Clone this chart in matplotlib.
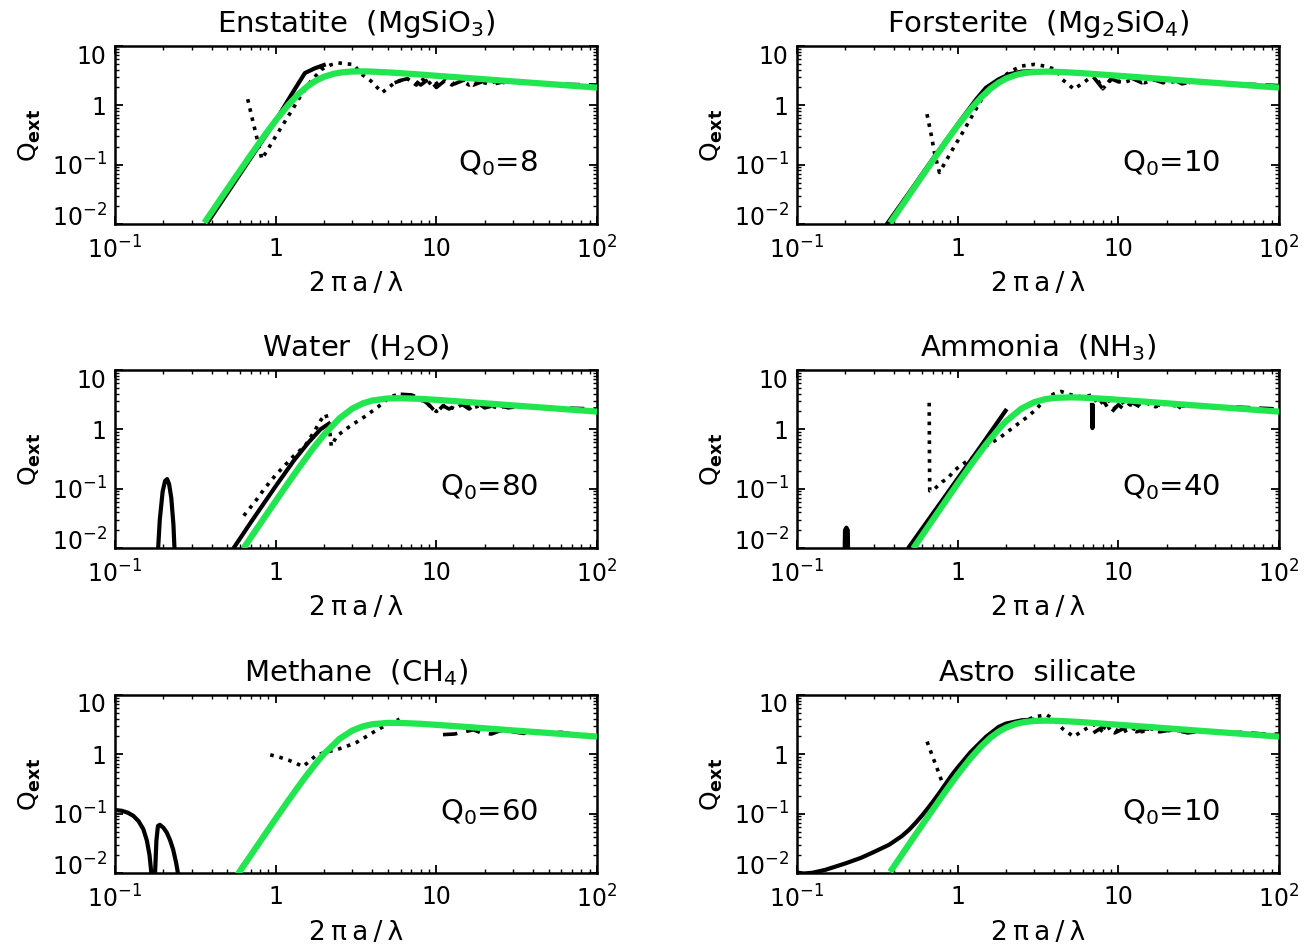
import numpy as np
import matplotlib
matplotlib.use('Agg')
import matplotlib.pyplot as plt
from matplotlib.transforms import ScaledTranslation
from matplotlib.ticker import FixedLocator, FixedFormatter, LogLocator, NullFormatter

# ── Enstatite (MgSiO3), Q0 = 8 ───────────────────────────────────────────────
ens_fit_x = [0.36, 0.45, 0.55, 0.7, 0.85, 1.0, 1.2, 1.4, 1.6, 1.8, 2.0, 2.3, 2.6,
             3.0, 3.5, 4.0, 5.0, 6.0, 8.0, 10, 15, 20, 30, 50, 70, 100]
ens_fit_q = [0.0105, 0.0255, 0.0566, 0.146, 0.307, 0.556, 1.02, 1.59, 2.16, 2.65,
             3.03, 3.41, 3.61, 3.72, 3.74, 3.70, 3.59, 3.48, 3.30, 3.15, 2.91,
             2.75, 2.53, 2.29, 2.14, 1.99]
ens_solid_x = [0.37, 0.5, 0.7, 1.0, 1.25, 1.52, 1.75, 2.05]
ens_solid_q = [0.0098, 0.033, 0.13, 0.55, 1.5, 3.5, 4.2, 4.9]
ens_dot_x = [0.67, 0.72, 0.77, 0.82, 0.9, 1.0, 1.13, 1.3, 1.43, 1.65, 1.92, 2.2,
             2.45, 2.75, 3.05, 3.4, 3.9, 4.6, 5.5, 6.5, 7.5, 8.5, 9.5, 11, 12.5,
             14, 16, 18, 21, 24, 28]
ens_dot_q = [1.27, 0.55, 0.26, 0.124, 0.187, 0.3, 0.51, 0.94, 1.44, 2.5, 4.0, 4.8,
             5.2, 5.0, 4.9, 3.4, 2.6, 1.64, 2.4, 2.9, 2.2, 2.9, 2.1, 2.8, 2.2,
             2.7, 2.2, 2.6, 2.3, 2.6, 2.3]
ens_dash_x = [5.5, 6.2, 7, 8, 9, 10, 11.5, 13, 15, 17, 20, 23, 27, 32, 40, 50, 70, 100]
ens_dash_q = [2.4, 2.7, 2.9, 2.2, 2.8, 2.0, 2.7, 2.3, 2.7, 2.2, 2.6, 2.3, 2.55,
              2.35, 2.4, 2.3, 2.25, 2.2]

# ── Forsterite (Mg2SiO4), Q0 = 10 ────────────────────────────────────────────
for_fit_x = [0.38, 0.45, 0.55, 0.7, 0.85, 1.0, 1.2, 1.4, 1.6, 1.8, 2.0, 2.3, 2.6,
             3.0, 3.5, 4.0, 5.0, 6.0, 8.0, 10, 15, 20, 30, 50, 70, 100]
for_fit_q = [0.0104, 0.0204, 0.0453, 0.117, 0.249, 0.455, 0.853, 1.36, 1.91, 2.41,
             2.82, 3.25, 3.50, 3.65, 3.70, 3.68, 3.58, 3.48, 3.29, 3.15, 2.91,
             2.75, 2.53, 2.29, 2.14, 1.99]
for_solid_x = [0.36, 0.5, 0.7, 1.0, 1.3, 1.5, 1.8, 2.1, 2.5, 3.0]
for_solid_q = [0.0097, 0.034, 0.125, 0.48, 1.25, 1.98, 2.75, 3.35, 3.7, 3.8]
for_dot_x = [0.644, 0.68, 0.72, 0.77, 0.85, 0.95, 1.04, 1.2, 1.41, 1.66, 1.9, 2.16,
             2.5, 3.0, 3.46, 4.1, 4.5, 5.3, 6.3, 7.1, 8.0, 9.0, 10.8, 12.5, 14.5,
             17, 20, 24, 28]
for_dot_q = [0.71, 0.35, 0.15, 0.074, 0.118, 0.2, 0.3, 0.59, 1.27, 2.1, 3.0, 3.8,
             4.6, 4.9, 4.6, 4.0, 2.7, 1.87, 2.6, 3.3, 1.9, 2.7, 2.4, 2.8, 2.4,
             2.7, 2.4, 2.6, 2.4]
for_dash_x = [7, 8, 9, 10, 12, 14, 16, 19, 22, 25, 30, 40, 50, 70, 100]
for_dash_q = [3.0, 1.9, 2.8, 2.5, 2.9, 2.4, 2.8, 2.4, 2.7, 2.3, 2.6, 2.4, 2.3, 2.25, 2.15]

# ── Water (H2O), Q0 = 80 ─────────────────────────────────────────────────────
wat_fit_x = [0.63, 0.7, 0.8, 0.9, 1.0, 1.2, 1.4, 1.7, 2.0, 2.5, 3.0, 3.5, 4.0,
             5.0, 6.0, 8.0, 10, 15, 20, 30, 50, 70, 100]
wat_fit_q = [0.0098, 0.015, 0.0255, 0.0407, 0.0617, 0.126, 0.228, 0.468, 0.813,
             1.54, 2.24, 2.75, 3.06, 3.32, 3.35, 3.26, 3.14, 2.91, 2.75, 2.53,
             2.29, 2.14, 1.99]
wat_solid_x = [0.182, 0.19, 0.198, 0.205, 0.211, 0.217, 0.224, 0.231, 0.238, np.nan,
               0.545, 0.7, 0.85, 1.0, 1.3, 1.6, 1.9, 2.2]
wat_solid_q = [0.004, 0.03, 0.09, 0.135, 0.145, 0.12, 0.07, 0.025, 0.004, np.nan,
               0.0098, 0.027, 0.058, 0.11, 0.3, 0.6, 1.0, 1.3]
wat_dot_x = [0.633, 0.75, 0.847, 1.0, 1.13, 1.3, 1.52, 1.75, 1.92, 2.05, 2.15, 2.22,
             2.4, 2.9, 3.6, 4.35, 5.2, 5.9, 7.0, 8.5, 10, 11.5, 13, 15, 17, 20, 24, 28]
wat_dot_q = [0.035, 0.062, 0.098, 0.17, 0.24, 0.36, 0.52, 0.95, 1.46, 1.8, 1.2, 0.52,
             0.77, 1.13, 1.65, 2.4, 3.58, 3.9, 3.6, 2.9, 2.0, 2.6, 2.2, 2.8, 2.3,
             2.7, 2.3, 2.5]
wat_dash_x = [6, 7, 8, 9, 10, 11, 12, 14, 16, 18, 20, 24, 28, 35, 45, 60, 100]
wat_dash_q = [3.9, 3.8, 3.3, 2.6, 1.9, 2.5, 2.2, 2.8, 2.2, 2.8, 2.3, 2.6, 2.3, 2.5,
              2.3, 2.3, 2.2]

# ── Ammonia (NH3), Q0 = 40 ───────────────────────────────────────────────────
amm_fit_x = [0.53, 0.6, 0.7, 0.8, 1.0, 1.2, 1.5, 1.8, 2.0, 2.5, 3.0, 3.5, 4.0,
             5.0, 6.0, 8.0, 10, 15, 20, 30, 50, 70, 100]
amm_fit_q = [0.00985, 0.0162, 0.0298, 0.0507, 0.122, 0.246, 0.556, 1.01, 1.37,
             2.25, 2.87, 3.22, 3.39, 3.46, 3.42, 3.28, 3.15, 2.91, 2.75, 2.53,
             2.29, 2.14, 1.99]
amm_solid_x = [0.197, 0.199, 0.203, 0.207, 0.209, np.nan,
               0.49, 0.7, 1.0, 1.4, 2.02, np.nan, 6.85, 6.9, 6.95]
amm_solid_q = [0.004, 0.02, 0.022, 0.02, 0.004, np.nan,
               0.0098, 0.038, 0.148, 0.53, 2.2, np.nan, 2.8, 1.05, 2.7]
amm_dot_x = [0.665, 0.667, 0.67, 0.72, 0.8, 0.87, 0.95, 1.05, 1.3, 1.49, 1.8, 2.27,
             2.7, 3.1, 3.46, 4.0, 4.4, 5.1, 6.0, 6.9, 7.5, 8.5, 9.5, 11, 12.5,
             14.5, 17, 20, 24, 28]
amm_dot_q = [2.8, 0.5, 0.092, 0.1, 0.13, 0.15, 0.2, 0.25, 0.36, 0.52, 0.7, 1.13,
             1.6, 2.2, 3.15, 4.0, 4.35, 3.8, 3.5, 3.8, 2.6, 3.3, 2.3, 3.0, 2.4,
             2.9, 2.4, 2.7, 2.4, 2.6]
amm_dash_x = [7.3, 8.0, 9.0, 10, 11, 12, 14, 16, 19, 22, 25, 30, 40, 50, 70, 100]
amm_dash_q = [3.2, 3.15, 1.9, 2.6, 2.1, 2.9, 2.3, 2.9, 2.4, 2.8, 2.2, 2.6, 2.3, 2.4,
              2.3, 2.2]

# ── Methane (CH4), Q0 = 60 ───────────────────────────────────────────────────
met_fit_x = [0.58, 0.65, 0.75, 0.85, 1.0, 1.2, 1.5, 1.8, 2.0, 2.5, 3.0, 3.5, 4.0,
             5.0, 6.0, 8.0, 10, 15, 20, 30, 50, 70, 100]
met_fit_q = [0.0094, 0.0148, 0.0262, 0.0431, 0.082, 0.167, 0.386, 0.731, 1.02,
             1.83, 2.52, 2.97, 3.22, 3.39, 3.38, 3.27, 3.14, 2.91, 2.75, 2.53,
             2.29, 2.14, 1.99]
met_solid_x = [0.1, 0.11, 0.12, 0.13, 0.14, 0.15, 0.158, 0.164, 0.169, 0.173, 0.177,
               0.181, 0.185, 0.19, 0.2, 0.21, 0.22, 0.23, 0.24, 0.25, 0.258, np.nan,
               0.565, 0.62, 0.7]
met_solid_q = [0.115, 0.112, 0.104, 0.092, 0.075, 0.055, 0.035, 0.02, 0.009, 0.003,
               0.008, 0.035, 0.062, 0.065, 0.058, 0.048, 0.036, 0.025, 0.015, 0.008,
               0.004, np.nan, 0.0085, 0.013, 0.02]
met_dot_x = [0.925, 1.05, 1.2, 1.35, 1.48, 1.65, 1.8, 2.1, 2.4, 2.73, 3.2, 3.66,
             4.2, 4.9, 5.5, 5.9]
met_dot_q = [0.98, 0.9, 0.8, 0.7, 0.62, 0.8, 0.98, 1.1, 1.2, 1.35, 1.6, 1.99, 2.5,
             3.13, 3.6, 3.9]
met_dash_x = [11, 13, 15, 17, 19, 22, 25, 30, 35, 40, 50, 60, 70]
met_dash_q = [2.15, 2.2, 2.4, 2.6, 2.3, 2.2, 2.5, 2.4, 2.25, 2.5, 2.3, 2.35, 2.2]

# ── Astro silicate, Q0 = 10 ──────────────────────────────────────────────────
ast_fit_x = for_fit_x
ast_fit_q = for_fit_q
ast_solid_x = [0.1, 0.11, 0.125, 0.15, 0.2, 0.25, 0.3, 0.375, 0.45, 0.5, 0.55,
               0.6, 0.65, 0.7, 0.77, 0.85, 0.92, 1.0, 1.2, 1.5, 1.8, 2.0, 2.5, 3.0]
ast_solid_q = [0.0102, 0.0098, 0.0101, 0.0113, 0.0145, 0.018, 0.0225, 0.030, 0.042,
               0.054, 0.071, 0.093, 0.122, 0.158, 0.225, 0.33, 0.45, 0.6, 1.08, 1.97,
               2.9, 3.3, 3.75, 3.85]
ast_dot_x = [0.645, 0.7, 0.76, 0.818, 0.9, 1.04, 1.32, 1.58, 2.0, 2.6, 3.0, 3.6,
             4.0, 4.5, 5.27, 6.3, 7.1, 8.0, 9.0, 10.5, 12, 14, 16, 19, 22, 26]
ast_dot_q = [1.64, 0.9, 0.5, 0.287, 0.34, 0.55, 1.2, 1.99, 3.0, 3.6, 4.3, 4.6, 3.8,
             2.7, 1.99, 2.7, 3.2, 2.4, 2.9, 2.3, 2.8, 2.4, 2.7, 2.4, 2.6, 2.4]
ast_dash_x = [7, 8, 9.5, 11, 13, 15, 18, 22, 27, 35, 45, 60, 80, 100]
ast_dash_q = [2.3, 2.9, 2.3, 2.8, 2.4, 2.7, 2.4, 2.6, 2.3, 2.5, 2.3, 2.35, 2.2, 2.2]

titles = ['Enstatite  (MgSiO$_3$)', 'Forsterite  (Mg$_2$SiO$_4$)',
          'Water  (H$_2$O)', 'Ammonia  (NH$_3$)',
          'Methane  (CH$_4$)', 'Astro  silicate']
q0_values = [8, 10, 80, 40, 60, 10]

x_ticks = [0.1, 1, 10, 100]
x_tick_labels = ['$10^{-1}$', '1', '10', '$10^{2}$']
y_ticks = [0.01, 0.1, 1, 10]
y_tick_labels = ['$10^{-2}$', '$10^{-1}$', '1', '10']

FIT_COLOR = '#21e64f'
W_PX, H_PX = 1316, 949
XLABEL = '2\u2009π\u2009a\u2009/\u2009λ'
# pixels to push each y label down (order of y_ticks): the end labels sit
# a little inside the box, as in the original
Y_LABEL_SHIFT_PX = [-9, 0, 0, 8]


def draw_panel(fig, ax, title, q0, solid, dotted, dashed, fit):
    ax.plot(*solid, color='black', lw=3.0, solid_capstyle='butt', zorder=2)
    ax.plot(*dotted, color='black', lw=2.6, linestyle=(0, (1.0, 1.6)),
            dash_capstyle='butt', zorder=2)
    ax.plot(*dashed, color='black', lw=2.6, linestyle=(0, (4.0, 2.5)),
            dash_capstyle='butt', zorder=2)
    ax.plot(*fit, color=FIT_COLOR, lw=4.5, solid_capstyle='butt', zorder=3)

    ax.set_xscale('log')
    ax.set_yscale('log')
    ax.set_xlim(0.1, 100)
    ax.set_ylim(0.01, 10)

    ax.xaxis.set_major_locator(FixedLocator(x_ticks))
    ax.xaxis.set_major_formatter(FixedFormatter(x_tick_labels))
    ax.yaxis.set_major_locator(FixedLocator(y_ticks))
    ax.yaxis.set_major_formatter(FixedFormatter(y_tick_labels))
    for axis in (ax.xaxis, ax.yaxis):
        axis.set_minor_locator(LogLocator(base=10, subs=np.arange(2, 10)))
        axis.set_minor_formatter(NullFormatter())

    ax.tick_params(which='both', direction='in', top=True, right=True)
    ax.tick_params(which='major', length=6, width=1.3, labelsize=17)
    ax.tick_params(which='minor', length=3, width=1.0)
    ax.tick_params(axis='x', which='major', pad=9)
    ax.tick_params(axis='y', which='major', pad=6)
    for sp in ax.spines.values():
        sp.set_linewidth(1.8)

    for tick, shift in zip(ax.yaxis.get_major_ticks(), Y_LABEL_SHIFT_PX):
        off = ScaledTranslation(0, -shift / 100, fig.dpi_scale_trans)
        tick.label1.set_transform(tick.label1.get_transform() + off)

    ax.set_xlabel(XLABEL, fontsize=19, va='center')
    ax.xaxis.set_label_coords(0.5, -0.335)
    ax.set_ylabel(r'Q$_{\mathbf{ext}}$', fontsize=18, va='center')
    ax.yaxis.set_label_coords(-0.176, 0.5)

    ax.text(0.5, 1.079, title, transform=ax.transAxes, ha='center',
            va='baseline', fontsize=21)
    ax.text(0.878, 0.295, f'Q$_0$={q0}', transform=ax.transAxes, ha='right',
            va='baseline', fontsize=21)


panels = [
    ((ens_solid_x, ens_solid_q), (ens_dot_x, ens_dot_q), (ens_dash_x, ens_dash_q), (ens_fit_x, ens_fit_q)),
    ((for_solid_x, for_solid_q), (for_dot_x, for_dot_q), (for_dash_x, for_dash_q), (for_fit_x, for_fit_q)),
    ((wat_solid_x, wat_solid_q), (wat_dot_x, wat_dot_q), (wat_dash_x, wat_dash_q), (wat_fit_x, wat_fit_q)),
    ((amm_solid_x, amm_solid_q), (amm_dot_x, amm_dot_q), (amm_dash_x, amm_dash_q), (amm_fit_x, amm_fit_q)),
    ((met_solid_x, met_solid_q), (met_dot_x, met_dot_q), (met_dash_x, met_dash_q), (met_fit_x, met_fit_q)),
    ((ast_solid_x, ast_solid_q), (ast_dot_x, ast_dot_q), (ast_dash_x, ast_dash_q), (ast_fit_x, ast_fit_q)),
]

col_left_px = [115, 797]
row_top_px = [46, 370, 695]
box_w_px, box_h_px = 482, 178

fig = plt.figure(figsize=(W_PX / 100, H_PX / 100), dpi=100)
for i, (solid, dotted, dashed, fit) in enumerate(panels):
    row, col = divmod(i, 2)
    rect = [col_left_px[col] / W_PX,
            1 - (row_top_px[row] + box_h_px) / H_PX,
            box_w_px / W_PX,
            box_h_px / H_PX]
    ax = fig.add_axes(rect)
    draw_panel(fig, ax, titles[i], q0_values[i], solid, dotted, dashed, fit)

fig.savefig('out.png', dpi=100)
